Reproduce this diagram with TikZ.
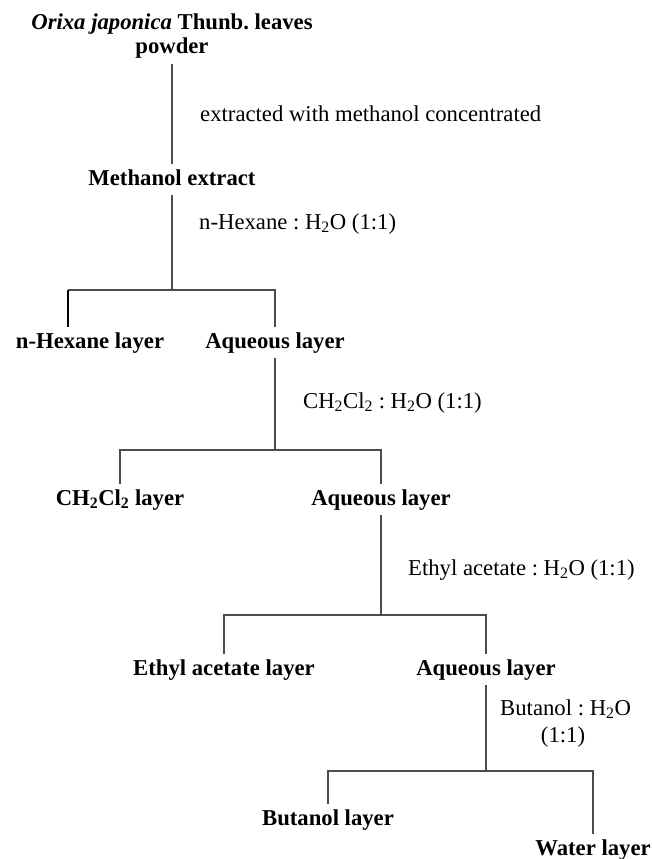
\documentclass[tikz,border=0pt]{standalone}
\usepackage{fontspec}
\setmainfont{Liberation Serif}
\frenchspacing
\begin{document}
\begin{tikzpicture}[x=1pt,y=-1pt,
  every node/.style={font=\fontsize{22.7}{26}\selectfont\frenchspacing, inner sep=0pt},
  layer/.style={font=\fontsize{22.7}{26}\selectfont\bfseries\frenchspacing, text height=15pt, text depth=4pt, inner xsep=0pt, inner ysep=6pt, anchor=base},
  lab/.style={anchor=base west},
  conn/.style={draw=black!70, line width=1.2pt},
  connb/.style={draw=black, line width=2pt}]
\useasboundingbox (0,0) rectangle (652,859);

% main nodes
\node[layer] (src1) at (172,30) {\textit{Orixa japonica} Thunb. leaves};
\node[layer] (src) at (172,54) {powder};
\node[layer] (meth) at (172,185) {Methanol extract};
\node[layer] (hexl) at (90,348) {n-Hexane layer};
\node[layer] (aq1) at (275,348) {Aqueous layer};
\node[layer] (dcm) at (120,505) {CH\textsubscript{2}Cl\textsubscript{2} layer};
\node[layer] (aq2) at (381,505) {Aqueous layer};
\node[layer] (eal) at (224,675) {Ethyl acetate layer};
\node[layer] (aq3) at (486,675) {Aqueous layer};
\node[layer] (bul) at (328,825) {Butanol layer};
\node[layer] (wat) at (593,855) {Water layer};

% step labels
\node[lab] (l1) at (200,121) {extracted with methanol concentrated};
\node[lab] (l2) at (199,229) {n-Hexane : H\textsubscript{2}O (1:1)};
\node[lab] (l3) at (303,408) {CH\textsubscript{2}Cl\textsubscript{2} : H\textsubscript{2}O (1:1)};
\node[lab] (l4) at (408,575) {Ethyl acetate : H\textsubscript{2}O (1:1)};
\node[lab] (l5) at (500,715) {Butanol : H\textsubscript{2}O};
\node[anchor=base] (l5b) at (563,742) {(1:1)};

% junctions
\coordinate (j1) at (172,290);
\coordinate (h1) at (68,290);
\coordinate (j2) at (275,450);
\coordinate (j3) at (381,615);
\coordinate (j4) at (486,771);

% connectors
\draw[conn] (src.south) -- (meth.north);
\draw[conn] (meth.south) -- (j1);
\draw[conn] (h1) -- (j1) -| (aq1.north);
\draw[connb] (h1) -- (h1 |- hexl.north);

\draw[conn] (aq1.south) -- (j2);
\draw[conn] (dcm.north) |- (j2) -| (aq2.north);

\draw[conn] (aq2.south) -- (j3);
\draw[conn] (eal.north) |- (j3) -| (aq3.north);

\draw[conn] (aq3.south) -- (j4);
\draw[conn] (bul.north) |- (j4) -| (wat.north);
\end{tikzpicture}
\end{document}
